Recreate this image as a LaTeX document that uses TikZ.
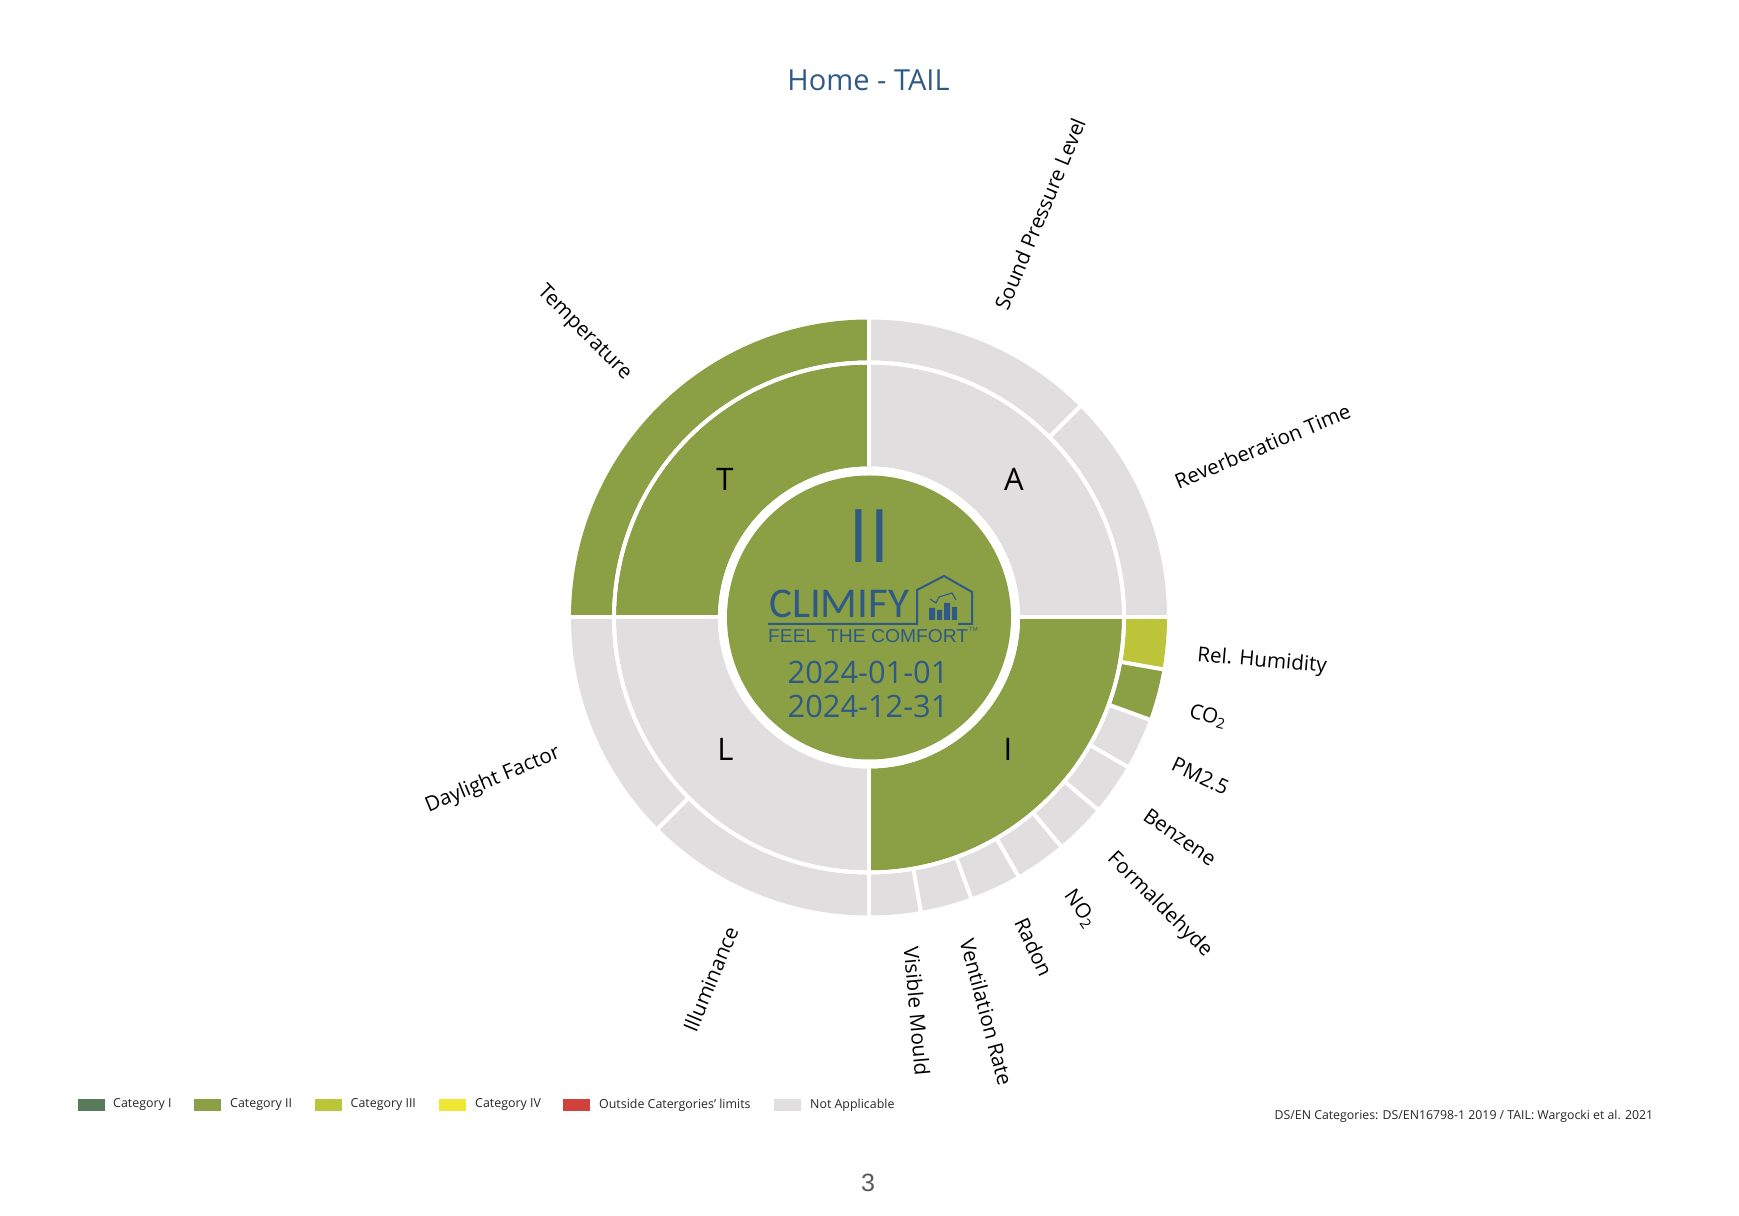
\documentclass[tikz,border=0pt]{standalone}
\usepackage{fontspec}
\setmainfont{Open Sans}
\newfontfamily\logofont{Liberation Sans}
\newfontfamily\wordfont{Carlito}
\definecolor{blueT}{HTML}{305A86}
\definecolor{catone}{HTML}{5A7A5C}
\definecolor{cattwo}{HTML}{8B9F45}
\definecolor{catthree}{HTML}{BCC43A}
\definecolor{catfour}{HTML}{F0E636}
\definecolor{catout}{HTML}{D0413A}
\definecolor{catna}{HTML}{E0DEDF}
\newcommand{\fs}[1]{\fontsize{#1}{#1}\selectfont}
\newcommand{\ringsector}[5]{% color, a, b, r1, r2
  \fill[#1] (#2:#4) arc (#2:#3:#4) -- (#3:#5) arc (#3:#2:#5) -- cycle;}
\tikzset{
  radlabel/.style={inner sep=0pt,font=\fs{20.6}},
  quad/.style={inner sep=0pt,font=\fs{31}},
  legendtxt/.style={inner sep=0pt,anchor=west,font=\fs{12.4},text=black!85},
  swatch/.style={minimum width=27pt,minimum height=12pt,inner sep=0pt,anchor=west},
  sep/.style={white,line width=4pt},
  bluetxt/.style={inner sep=0pt,text=blueT},
  logo/.style={draw=blueT,line width=2pt,line join=miter}
}
\begin{document}
\begin{tikzpicture}[x=1pt,y=1pt]
\useasboundingbox (0,0) rectangle (1739,1215);
\node[bluetxt,font=\fs{29}] (title) at (868.5,1135) {Home - TAIL};
\begin{scope}[shift={(869,597.5)}]
  % inner ring
  \ringsector{cattwo}{90}{180}{151}{253}
  \ringsector{catna}{0}{90}{151}{253}
  \ringsector{catna}{180}{270}{151}{253}
  \ringsector{cattwo}{270}{360}{151}{253}
  % outer ring
  \ringsector{cattwo}{90}{180}{257}{298}
  \ringsector{catna}{0}{90}{257}{298}
  \ringsector{catna}{180}{270}{257}{298}
  \ringsector{catna}{270}{340}{257}{298}
  \ringsector{cattwo}{340}{350}{257}{298}
  \ringsector{catthree}{350}{360}{257}{298}
  % separators
  \foreach \a in {0,90,180,270} \draw[sep] (\a:151) -- (\a:299);
  \foreach \a in {45,225,280,290,...,350} \draw[sep] (\a:255) -- (\a:299);
  \draw[white,line width=4pt] (0,0) circle (255);
  % centre
  \fill[white] (0,0) circle (151);
  \fill[cattwo] (0,0) circle (142);
\end{scope}
% quadrant letters
\node[quad] (qT) at (725,736) {T};
\node[quad] (qA) at (1014,736) {A};
\node[quad] (qL) at (725.5,466) {L};
\node[quad] (qI) at (1008,466) {I};
% centre text
\node[bluetxt,font=\fs{74}] (grade) at (869,678.5) {II};
\node[bluetxt,anchor=south west,font=\wordfont] (climify) at (769,597) {\resizebox{140pt}{27.5pt}{CLIMIFY}};
\draw[logo] (768,591) -- (917,591) -- (917,625) -- (944,639) -- (972,623) -- (972,591) -- (958,591);
\fill[blueT] (929,595) rectangle (935,607) (937,595) rectangle (942,605) (944,595) rectangle (950,612) (952,595) rectangle (957,608);
\draw[blueT,line width=1.1pt] (930,616) -- (936,612) -- (939,618) -- (952,622) -- (956,615);
\node[bluetxt,anchor=south west,font=\logofont] (tagline) at (768,572) {\resizebox{200pt}{13pt}{FEEL\ \ THE COMFORT}};
\node[bluetxt,anchor=south west,font=\logofont\fs{6}] (tm) at (969,583) {TM};
\node[bluetxt,font=\fs{30.8},anchor=base] (d1) at (868,531) {2024-01-01};
\node[bluetxt,font=\fs{30.8},anchor=base] (d2) at (868,497) {2024-12-31};
% radial labels
\node[radlabel,rotate=67.5] (l1) at (1040,1001) {Sound Pressure Level};
\node[radlabel,rotate=22.5] (l2) at (1262.5,769) {Reverberation Time};
\node[radlabel,rotate=-45] (l3) at (584,882) {Temperature};
\node[radlabel,rotate=-5] (l4) at (1262,553.5) {Rel. Humidity};
\node[radlabel,rotate=-15] (l5) at (1208,498.5) {CO\textsubscript{2}};
\node[radlabel,rotate=-25] (l6) at (1200.5,439) {PM2.5};
\node[radlabel,rotate=-35] (l7) at (1180,378) {Benzene};
\node[radlabel,rotate=-45] (l8) at (1159.5,310) {Formaldehyde};
\node[radlabel,rotate=-55] (l9) at (1080,306.5) {NO\textsubscript{2}};
\node[radlabel,rotate=-65] (l10) at (1034,268) {Radon};
\node[radlabel,rotate=-75] (l11) at (986.5,203) {Ventilation Rate};
\node[radlabel,rotate=-85] (l12) at (917,204) {Visible Mould};
\node[radlabel,rotate=67.5] (l13) at (710.5,236) {Illuminance};
\node[radlabel,rotate=22.5] (l14) at (493,435) {Daylight Factor};
% legend
\node[swatch,fill=catone] (s1) at (78,110) {};
\node[legendtxt] (t1) at (113,110) {Category I};
\node[swatch,fill=cattwo] (s2) at (194,110) {};
\node[legendtxt] (t2) at (230,110) {Category II};
\node[swatch,fill=catthree] (s3) at (315,110) {};
\node[legendtxt] (t3) at (350.5,110) {Category III};
\node[swatch,fill=catfour] (s4) at (439,110) {};
\node[legendtxt] (t4) at (475,110) {Category IV};
\node[swatch,fill=catout] (s5) at (563,110) {};
\node[legendtxt] (t5) at (599,110) {Outside Catergories' limits};
\node[swatch,fill=catna] (s6) at (774,110) {};
\node[legendtxt] (t6) at (810,110) {Not Applicable};
\node[legendtxt,font=\fs{12.3}] (src) at (1274.5,99) {DS/EN Categories: DS/EN16798-1 2019 / TAIL: Wargocki et al. 2021};
\node[inner sep=0pt,font=\logofont\fs{25},text=black!65] (pg) at (868,32) {3};
\end{tikzpicture}
\end{document}
